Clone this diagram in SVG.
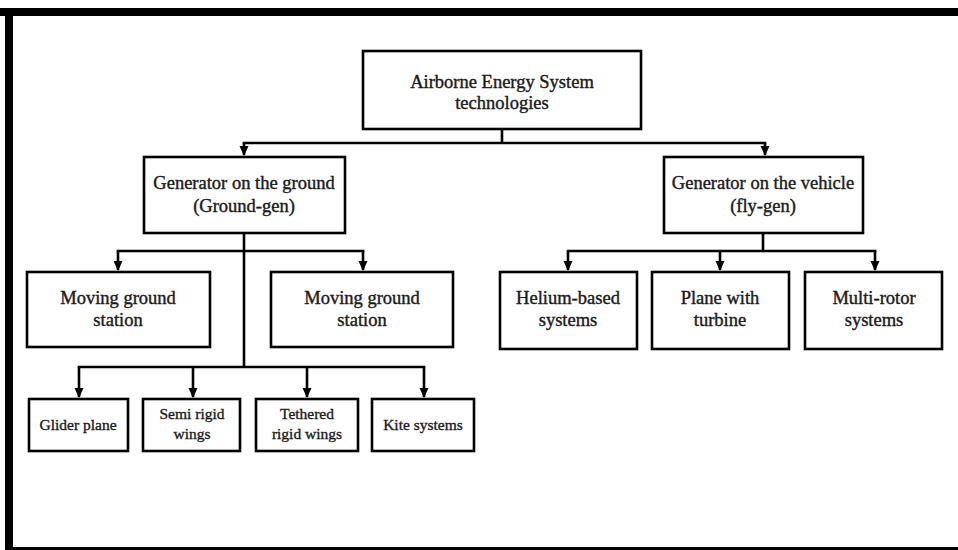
<svg xmlns="http://www.w3.org/2000/svg" width="958" height="550" viewBox="0 0 958 550">
<style>
.box{fill:#fff;stroke:#000;stroke-width:2.6}
.t{font-family:"Liberation Serif","Times New Roman",serif;font-size:18.5px;fill:#1a1a1a;stroke:#1a1a1a;stroke-width:0.4;text-anchor:middle}
.s{font-family:"Liberation Serif","Times New Roman",serif;font-size:15.5px;fill:#1a1a1a;stroke:#1a1a1a;stroke-width:0.35;text-anchor:middle}
.c{fill:none;stroke:#000;stroke-width:2.6}
</style>
<defs>
<marker id="ah" markerWidth="11" markerHeight="10" refX="9" refY="4.5" orient="auto" markerUnits="userSpaceOnUse">
<path d="M0,0 L10,4.5 L0,9 Z" fill="#000"/>
</marker>
</defs>
<rect width="958" height="550" fill="#fff"/>
<g id="frame">
<rect x="0" y="8" width="958" height="8" fill="#000"/>
<rect x="5" y="8" width="8" height="542" fill="#000"/>
<rect x="5" y="547" width="953" height="3" fill="#000"/>
</g>
<g id="connectors">
<path class="c" d="M502,129 V143 M242.7,143 H766.3"/>
<path class="c" d="M244,143 V155" marker-end="url(#ah)"/>
<path class="c" d="M765,143 V155" marker-end="url(#ah)"/>
<path class="c" d="M244,233 V367 M116.7,251 H364.3 M77.7,367 H425.3"/>
<path class="c" d="M118,251 V270" marker-end="url(#ah)"/>
<path class="c" d="M363,251 V270" marker-end="url(#ah)"/>
<path class="c" d="M79,367 V397" marker-end="url(#ah)"/>
<path class="c" d="M193,367 V397" marker-end="url(#ah)"/>
<path class="c" d="M307,367 V397" marker-end="url(#ah)"/>
<path class="c" d="M424,367 V397" marker-end="url(#ah)"/>
<path class="c" d="M763,233 V251 M566.7,251 H876.3"/>
<path class="c" d="M568,251 V270" marker-end="url(#ah)"/>
<path class="c" d="M720,251 V270" marker-end="url(#ah)"/>
<path class="c" d="M875,251 V270" marker-end="url(#ah)"/>
</g>
<g id="root"><rect class="box" x="363" y="51" width="278" height="78"/>
<text class="t" x="502" y="88">Airborne Energy System</text><text class="t" x="502" y="109">technologies</text></g>
<g id="groundgen"><rect class="box" x="144" y="157" width="201" height="76"/>
<text class="t" x="244" y="189">Generator on the ground</text><text class="t" x="244" y="212">(Ground-gen)</text></g>
<g id="flygen"><rect class="box" x="664" y="157" width="199" height="76"/>
<text class="t" x="763" y="189">Generator on the vehicle</text><text class="t" x="763" y="212">(fly-gen)</text></g>
<g id="mgs1"><rect class="box" x="27" y="272" width="183" height="75"/>
<text class="t" x="118" y="304">Moving ground</text><text class="t" x="118" y="326">station</text></g>
<g id="mgs2"><rect class="box" x="271" y="272" width="182" height="75"/>
<text class="t" x="362" y="304">Moving ground</text><text class="t" x="362" y="326">station</text></g>
<g id="helium"><rect class="box" x="500" y="272" width="137" height="77"/>
<text class="t" x="568" y="304">Helium-based</text><text class="t" x="568" y="326">systems</text></g>
<g id="plane"><rect class="box" x="652" y="272" width="137" height="77"/>
<text class="t" x="720" y="304">Plane with</text><text class="t" x="720" y="326">turbine</text></g>
<g id="multirotor"><rect class="box" x="805" y="272" width="137" height="77"/>
<text class="t" x="874" y="304">Multi-rotor</text><text class="t" x="874" y="326">systems</text></g>
<g id="glider"><rect class="box" x="29" y="399" width="99" height="52"/>
<text class="s" x="78" y="430">Glider plane</text></g>
<g id="semirigid"><rect class="box" x="143" y="399" width="97" height="52"/>
<text class="s" x="192" y="419">Semi rigid</text><text class="s" x="192" y="439">wings</text></g>
<g id="tethered"><rect class="box" x="256" y="399" width="102" height="52"/>
<text class="s" x="307" y="419">Tethered</text><text class="s" x="307" y="439">rigid wings</text></g>
<g id="kite"><rect class="box" x="372" y="399" width="102" height="52"/>
<text class="s" x="423" y="430">Kite systems</text></g>
</svg>
